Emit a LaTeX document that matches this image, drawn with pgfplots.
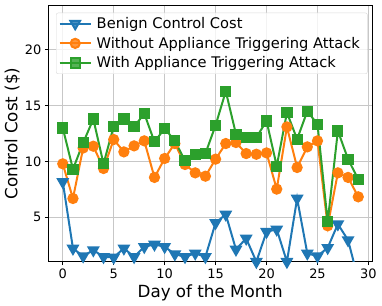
\documentclass[border=0pt]{standalone}
\usepackage{pgfplots}
\pgfplotsset{compat=1.18}
\usepackage{fontspec}
\setmainfont{DejaVu Sans}
\definecolor{tabblue}{HTML}{1F77B4}
\definecolor{taborange}{HTML}{FF7F0E}
\definecolor{tabgreen}{HTML}{2CA02C}
\begin{document}
\begin{tikzpicture}[x=1bp,y=1bp]
\begin{axis}[
  scale only axis,
  width=323.7bp, height=256.4bp,
  xmin=-1.42, xmax=30.35,
  ymin=1, ymax=24,
  xtick={0,5,...,30},
  ytick={5,10,15,20},
  tick align=outside,
  tick pos=left,
  major tick length=3.5bp,
  every tick/.style={black, line width=0.8bp},
  axis line style={black, line width=0.8bp},
  grid=major,
  grid style={black!22, line width=0.8bp},
  tick label style={font=\fontsize{13}{14}\selectfont},
  /pgf/number format/assume math mode=true,
  xlabel={Day of the Month},
  ylabel={Control Cost (\$)},
  label style={font=\fontsize{16.8}{18}\selectfont},
  xlabel style={at={(axis description cs:0.5,-0.138)}, anchor=base},
  ylabel style={at={(axis description cs:-0.0958,0.5)}, anchor=base},
  legend style={at={(0.0238,0.971)}, anchor=north west,
    font=\fontsize{14.7}{16}\selectfont,
    draw=black!15, fill=white, fill opacity=0.8, text opacity=1,
    rounded corners=2bp, row sep=4bp, inner xsep=2.5bp, inner ysep=3bp,
    nodes={inner xsep=5bp, inner ysep=1.5bp}},
  legend cell align=left,
  legend image code/.code={
    \draw[mark repeat=2,mark phase=2] plot coordinates {(0bp,0bp) (15.5bp,0bp) (31bp,0bp)};
  },
  clip mode=global,
]
\addplot[tabblue, line width=2bp, mark=triangle*, mark size=5.5bp, mark options={rotate=180}] coordinates {
(0,8.16) (1,2.19) (2,1.5) (3,2.04) (4,1.44) (5,1.39) (6,2.2) (7,1.44) (8,2.34) (9,2.55)
(10,2.34) (11,1.68) (12,1.44) (13,1.75) (14,1.44) (15,4.49) (16,5.24) (17,2.1) (18,3.09) (19,1.0)
(20,3.69) (21,3.9) (22,1.0) (23,6.67) (24,1.75) (25,1.5) (26,2.25) (27,4.37) (28,2.94) (29,-0.6)};
\addlegendentry{Benign Control Cost}
\addplot[taborange, line width=2bp, mark=*, mark size=4.6bp] coordinates {
(0,9.78) (1,6.67) (2,11.2) (3,11.36) (4,9.36) (5,11.96) (6,10.85) (7,11.39) (8,11.84) (9,8.56)
(10,10.26) (11,11.6) (12,9.72) (13,8.97) (14,8.67) (15,10.2) (16,11.6) (17,11.69) (18,10.7) (19,10.64)
(20,10.76) (21,7.51) (22,13.09) (23,9.45) (24,11.3) (25,11.84) (26,4.22) (27,8.97) (28,8.56) (29,6.82)};
\addlegendentry{Without Appliance Triggering Attack}
\addplot[tabgreen, line width=2bp, mark=square*, mark size=4.6bp] coordinates {
(0,13.0) (1,9.3) (2,11.66) (3,13.8) (4,9.78) (5,13.15) (6,13.8) (7,13.1) (8,14.29) (9,11.75)
(10,12.95) (11,11.84) (12,10.05) (13,10.64) (14,10.7) (15,13.24) (16,16.29) (17,12.44) (18,12.14) (19,12.14)
(20,13.63) (21,9.57) (22,14.38) (23,11.99) (24,14.5) (25,13.33) (26,4.58) (27,12.73) (28,10.2) (29,8.38)};
\addlegendentry{With Appliance Triggering Attack}
\end{axis}
\pgfresetboundingbox
\path (current axis.south west) ++(-48.3bp,-44.3bp) rectangle ++(382bp,306bp);
\end{tikzpicture}
\end{document}
